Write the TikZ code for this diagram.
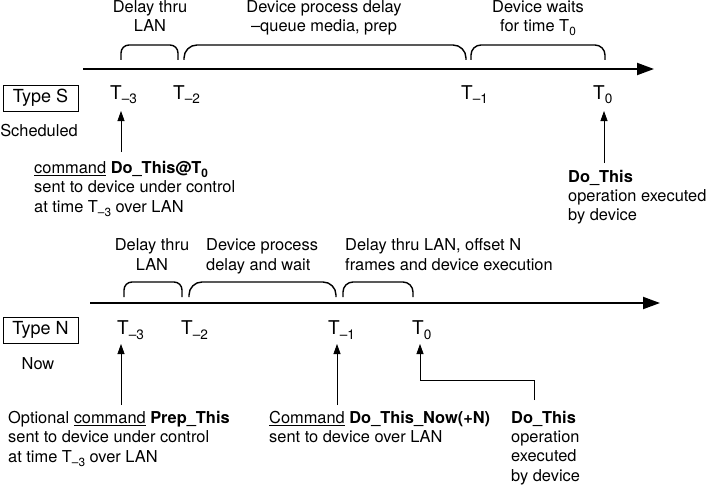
\documentclass[tikz,border=0pt]{standalone}
\usepackage{fontspec}
\setmainfont{TeX Gyre Heros}
\usetikzlibrary{arrows.meta}
\newcommand\tsub[1]{\raisebox{-4pt}{\fontsize{11.8}{12}\selectfont #1}}
\newcommand\tsubT[1]{\raisebox{-5pt}{\fontsize{13.6}{14}\selectfont #1}}
\tikzset{
  lbl/.style={inner sep=0pt, font=\fontsize{16.4}{19.4}\selectfont},
  tl/.style={inner sep=0pt, anchor=base west, font=\fontsize{19}{22}\selectfont},
  typebox/.style={draw, line width=0.8pt, minimum width=75pt, minimum height=26pt, inner sep=0pt, font=\fontsize{18}{21}\selectfont},
  axis/.style={line width=2pt, -{Triangle[length=17pt,width=12pt]}},
  brk/.style={line width=1.4pt},
  arr/.style={line width=0.8pt, -{Triangle[length=10pt,width=7pt]}},
}
\begin{document}
\begin{tikzpicture}[x=1pt,y=-1pt]
\useasboundingbox (0,0) rectangle (709,487);
% ---------------- Type S ----------------
\coordinate (sA) at (83,69);
\coordinate (sB) at (654,69);
\draw[axis] (sA) -- (sB);
\draw[brk, rounded corners=8pt] (121,60) -- (121,45) -- (178,45) -- (178,60);
\draw[brk, rounded corners=13pt] (184,60) -- (184,45) -- (466,45) -- (466,60);
\draw[brk, rounded corners=10pt] (471,60) -- (471,45) -- (605,45) -- (605,60);
% anchor=base of a multi-line node = baseline of its last line
\node[lbl, align=center, anchor=base] (sl1) at (150,31.9) {Delay thru\\LAN};
\node[lbl, align=center, anchor=base] (sl2) at (324,31.9) {Device process delay\\--queue media, prep};
\node[lbl, align=center, anchor=base] (sl3) at (538,31.9) {Device waits\\for time T\tsub{0}};
\node[tl] (sT3) at (110,99) {T\tsubT{--3}};
\node[tl] (sT2) at (173,99) {T\tsubT{--2}};
\node[tl] (sT1) at (461,99) {T\tsubT{--1}};
\node[tl] (sT0) at (593,99) {T\tsubT{0}};
\node[typebox] (tS) at (40.5,98) {Type S};
\node[lbl, anchor=base] (sched) at (39,136.5) {Scheduled};
\node[lbl, align=left, anchor=base west] (cmdS) at (34,212.1) {\underline{command} \textbf{Do\_This@T}\tsub{\textbf{0}}\\sent to device under control\\at time T\tsub{--3} over LAN};
\node[lbl, align=left, anchor=base west] (exS) at (568,220.8) {\textbf{Do\_This}\\operation executed\\by device};
\coordinate (a1s) at (121,152);
\coordinate (a1e) at (121,111);
\coordinate (a2s) at (604,163);
\coordinate (a2e) at (604,111);
\draw[arr] (a1s) -- (a1e);
\draw[arr] (a2s) -- (a2e);
% ---------------- Type N ----------------
\coordinate (nA) at (90,303);
\coordinate (nB) at (660,303);
\draw[axis] (nA) -- (nB);
\draw[brk, rounded corners=8pt] (124,297) -- (124,282) -- (182,282) -- (182,297);
\draw[brk, rounded corners=13pt] (189,297) -- (189,282) -- (336,282) -- (336,297);
\draw[brk, rounded corners=10pt] (343,297) -- (343,282) -- (413,282) -- (413,297);
\node[lbl, align=center, anchor=base] (nl1) at (152,270.1) {Delay thru\\LAN};
\node[lbl, align=left, anchor=base west] (nl2) at (206,270.1) {Device process\\delay and wait};
\node[lbl, align=left, anchor=base west] (nl3) at (345,270.1) {Delay thru LAN, offset N\\frames and device execution};
\node[tl] (nT3) at (117,334) {T\tsubT{--3}};
\node[tl] (nT2) at (181,334) {T\tsubT{--2}};
\node[tl] (nT1) at (328,334) {T\tsubT{--1}};
\node[tl] (nT0) at (412,334) {T\tsubT{0}};
\node[typebox] (tN) at (40.5,330) {Type N};
\node[lbl, anchor=base] (now) at (38,369) {Now};
\node[lbl, align=left, anchor=base west] (prep) at (8,462.1) {Optional \underline{command} \textbf{Prep\_This}\\sent to device under control\\at time T\tsub{--3} over LAN};
\node[lbl, align=left, anchor=base west] (dtn) at (269,442.7) {\underline{Command} \textbf{Do\_This\_Now(+N)}\\sent to device over LAN};
\node[lbl, align=left, anchor=base west] (exN) at (511,481.2) {\textbf{Do\_This}\\operation\\executed\\by device};
\coordinate (b1s) at (121,405);
\coordinate (b1e) at (121,344);
\coordinate (b2s) at (337,405);
\coordinate (b2e) at (337,344);
\coordinate (b3s) at (534,400);
\coordinate (b3e) at (420,344);
\draw[arr] (b1s) -- (b1e);
\draw[arr] (b2s) -- (b2e);
\draw[arr] (b3s) -- (534,380) -- (420,380) -- (b3e);
\end{tikzpicture}
\end{document}
